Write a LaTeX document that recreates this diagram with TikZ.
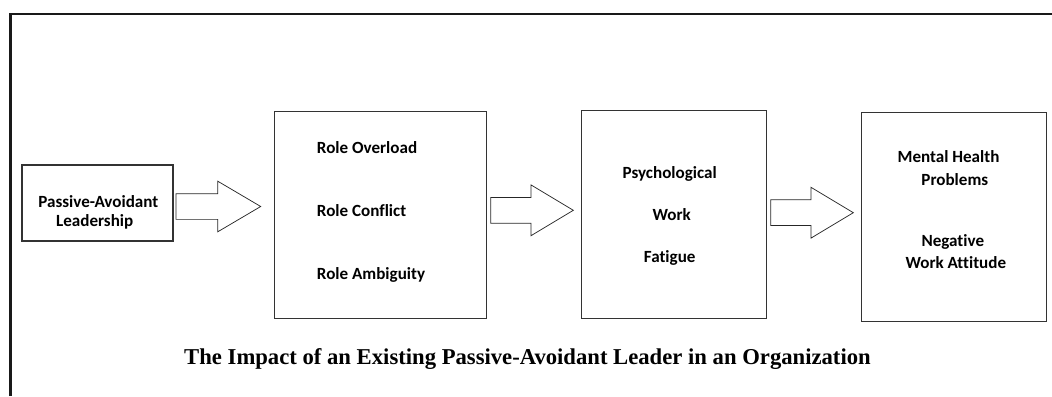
\documentclass[tikz,border=0pt]{standalone}
\usepackage{fontspec}
\setmainfont{Liberation Serif}
\newfontfamily\boxfont[Ligatures=NoCommon]{Carlito}
\usetikzlibrary{positioning, shapes.arrows}

% one screen pixel
\newlength{\pxu}
\setlength{\pxu}{0.75pt}

\tikzset{
    stagebox/.style={draw=black!80, line width=0.8pt, rectangle, inner sep=0pt, outer sep=0pt},
    stagetext/.style={font=\boxfont\bfseries\fontsize{12.8}{15}\selectfont, inner sep=0pt, anchor=base},
    blockarrow/.style={draw=black!85, line width=0.55pt, single arrow, single arrow head extend=12.5\pxu,
        inner xsep=0pt, inner ysep=12.5\pxu, outer sep=0pt, anchor=tail}
}

\begin{document}
\begin{tikzpicture}[x=\pxu, y=-\pxu]
        \useasboundingbox (0,0) rectangle (1052,396);

        % frame (only left and top edges show)
        \draw[line width=2pt, black!90] (10.3,396) -- (10.3,14) -- (1052,14);

        \node[stagebox, minimum width=151\pxu, minimum height=76\pxu] (lead) at (97.5,203) {};
        \node[stagebox, minimum width=211.7\pxu, minimum height=207\pxu] (role) at (380.2,215.2) {};
        \node[stagebox, minimum width=184.3\pxu, minimum height=208.3\pxu] (fatigue) at (673.9,214.2) {};
        \node[stagebox, minimum width=184.3\pxu, minimum height=208.3\pxu] (outcome) at (953.9,216.9) {};

        \node[blockarrow, minimum height=84.7\pxu, single arrow tip angle=61] (arr1) at (176,206.5) {};
        \node[blockarrow, minimum height=82.6\pxu, single arrow tip angle=62] (arr2) at (490.7,210.3) {};
        \node[blockarrow, minimum height=82.6\pxu, single arrow tip angle=62] (arr3) at (770.7,212.7) {};

        \node[stagetext] (lead1) at (98.3,207.3) {Passive-Avoidant};
        \node[stagetext] (lead2) at (94.7,226) {Leadership};

        \node[stagetext, anchor=base west] (role1) at (316.7,153.3) {Role Overload};
        \node[stagetext, anchor=base west] (role2) at (316.7,216) {Role Conflict};
        \node[stagetext, anchor=base west] (role3) at (316.7,279) {Role Ambiguity};

        \node[stagetext] (fat1) at (669.7,178.7) {Psychological};
        \node[stagetext] (fat2) at (671.7,220.7) {Work};
        \node[stagetext] (fat3) at (669.7,262.7) {Fatigue};

        \node[stagetext] (out1) at (948.5,162.7) {Mental Health};
        \node[stagetext] (out2) at (954.8,185) {Problems};
        \node[stagetext] (out3) at (952.8,246.7) {Negative};
        \node[stagetext] (out4) at (955.8,268.3) {Work Attitude};

        \node[font=\bfseries\fontsize{17}{20}\selectfont, inner sep=0pt, anchor=base] (title) at (527.5,364.5)
            {The Impact of an Existing Passive-Avoidant Leader in an Organization};
    \end{tikzpicture}
\end{document}
